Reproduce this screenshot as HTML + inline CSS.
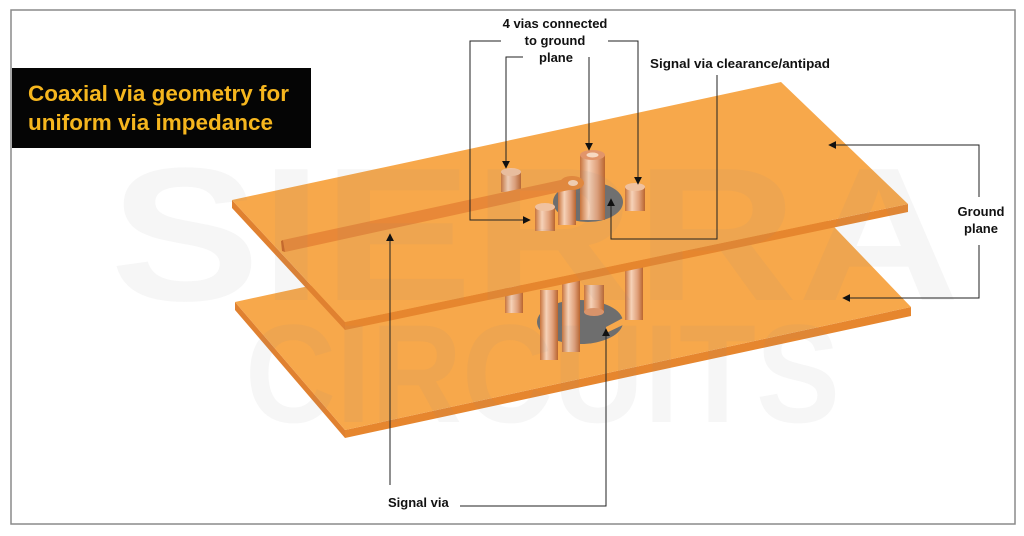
<!DOCTYPE html>
<html><head><meta charset="utf-8"><style>
html,body{margin:0;padding:0;background:#fff}
svg{display:block}
text{font-family:"Liberation Sans",Arial,sans-serif;font-weight:bold}
</style></head><body>
<svg width="1024" height="536" viewBox="0 0 1024 536" xmlns="http://www.w3.org/2000/svg">
<defs>
<linearGradient id="cu" x1="0" x2="1" y1="0" y2="0">
<stop offset="0" stop-color="#c8743c"/><stop offset="0.35" stop-color="#f6d2b8"/><stop offset="0.7" stop-color="#e0a07a"/><stop offset="1" stop-color="#b9652f"/>
</linearGradient>
<marker id="ar" viewBox="0 0 10 10" refX="9" refY="5" markerWidth="8" markerHeight="8" orient="auto-start-reverse"><path d="M0,0 L10,5 L0,10 z" fill="#111"/></marker>
</defs>
<rect x="11" y="10" width="1004" height="514" fill="#fff" stroke="#8a8a8a" stroke-width="1.5"/>
<!-- bottom plane -->
<polygon points="235,302 345,430 345,438 235,310" fill="#e08130"/>
<polygon points="345,430 911,307 911,316 345,438" fill="#e6862e"/>
<polygon points="235,302 791,182 911,307 345,430" fill="#f7a84b"/>
<ellipse cx="580" cy="322" rx="43" ry="22" fill="#6e6e6e"/>
<rect x="505" y="285" width="18" height="28" fill="url(#cu)"/>
<rect x="540" y="290" width="18" height="70" fill="url(#cu)"/>
<rect x="562" y="280" width="18" height="72" fill="url(#cu)"/>
<rect x="584" y="285" width="20" height="27" fill="url(#cu)"/>
<ellipse cx="594" cy="312" rx="10" ry="4" fill="#d8936a"/>
<rect x="625" y="265" width="18" height="55" fill="url(#cu)"/>
<polygon points="606,327 623,318 623,325 606,333" fill="#f7a84b"/>
<!-- top plane -->
<polygon points="232,200 345,322 345,330 232,208" fill="#e08130"/>
<polygon points="345,322 908,204 908,212 345,330" fill="#e6862e"/>
<polygon points="232,200 781,82 908,204 345,322" fill="#f7a84b"/>
<ellipse cx="588" cy="202" rx="35" ry="20" fill="#6e6e6e"/>
<rect x="501" y="172" width="20" height="20" fill="url(#cu)"/>
<ellipse cx="511" cy="172" rx="10" ry="4" fill="#f0c2a0"/>
<rect x="558" y="185" width="18" height="40" fill="url(#cu)"/>
<rect x="580" y="155" width="25" height="65" fill="url(#cu)"/>
<ellipse cx="592.5" cy="155" rx="12.5" ry="5" fill="#e2956a"/>
<ellipse cx="592.5" cy="155" rx="6" ry="2.5" fill="#f7d9c2"/>
<rect x="625" y="187" width="20" height="24" fill="url(#cu)"/>
<ellipse cx="635" cy="187" rx="10" ry="4" fill="#f0c2a0"/>
<polygon points="283,240 570,178 578,188 285,252" fill="#e88838"/>
<polygon points="283,240 285,252 282,251 281,241" fill="#c96626"/>
<ellipse cx="572" cy="183" rx="12" ry="7" fill="#e88838"/>
<ellipse cx="573" cy="183" rx="5" ry="3" fill="#f7d2b5"/>
<rect x="535" y="207" width="20" height="24" fill="url(#cu)"/>
<ellipse cx="545" cy="207" rx="10" ry="4" fill="#f0c2a0"/>
<!-- watermark overlay -->
<text x="110" y="300" font-size="190" fill="#888" fill-opacity="0.08" textLength="850" lengthAdjust="spacingAndGlyphs">SIERRA</text>
<text x="245" y="422" font-size="140" fill="#888" fill-opacity="0.08" textLength="595" lengthAdjust="spacingAndGlyphs">CIRCUITS</text>
<!-- title -->
<rect x="12" y="68" width="299" height="80" fill="#050505"/>
<text x="28" y="101" font-size="22.5" fill="#f6b61e" textLength="261" lengthAdjust="spacingAndGlyphs">Coaxial via geometry for</text>
<text x="28" y="130" font-size="22.5" fill="#f6b61e" textLength="245" lengthAdjust="spacingAndGlyphs">uniform via impedance</text>
<g font-size="13" fill="#111" text-anchor="middle">
<text x="555" y="28">4 vias connected</text>
<text x="555" y="45">to ground</text>
<text x="556" y="62">plane</text>
</g>
<text x="650" y="68" font-size="13" fill="#111" textLength="180" lengthAdjust="spacingAndGlyphs">Signal via clearance/antipad</text>
<text x="981" y="216" font-size="13" fill="#111" text-anchor="middle">Ground</text>
<text x="981" y="233" font-size="13" fill="#111" text-anchor="middle">plane</text>
<text x="388" y="507" font-size="13" fill="#111">Signal via</text>
<g fill="none" stroke="#222" stroke-width="1">
<polyline points="501,41 470,41 470,220 530,220" marker-end="url(#ar)"/>
<polyline points="523,57 506,57 506,168" marker-end="url(#ar)"/>
<polyline points="589,57 589,150" marker-end="url(#ar)"/>
<polyline points="608,41 638,41 638,184" marker-end="url(#ar)"/>
<polyline points="717,75 717,239 611,239 611,199" marker-end="url(#ar)"/>
<polyline points="979,197 979,145 829,145" marker-end="url(#ar)"/>
<polyline points="979,245 979,298 843,298" marker-end="url(#ar)"/>
<polyline points="390,485 390,234" marker-end="url(#ar)"/>
<polyline points="460,506 606,506 606,329" marker-end="url(#ar)"/>
</g>
</svg>
</body></html>
